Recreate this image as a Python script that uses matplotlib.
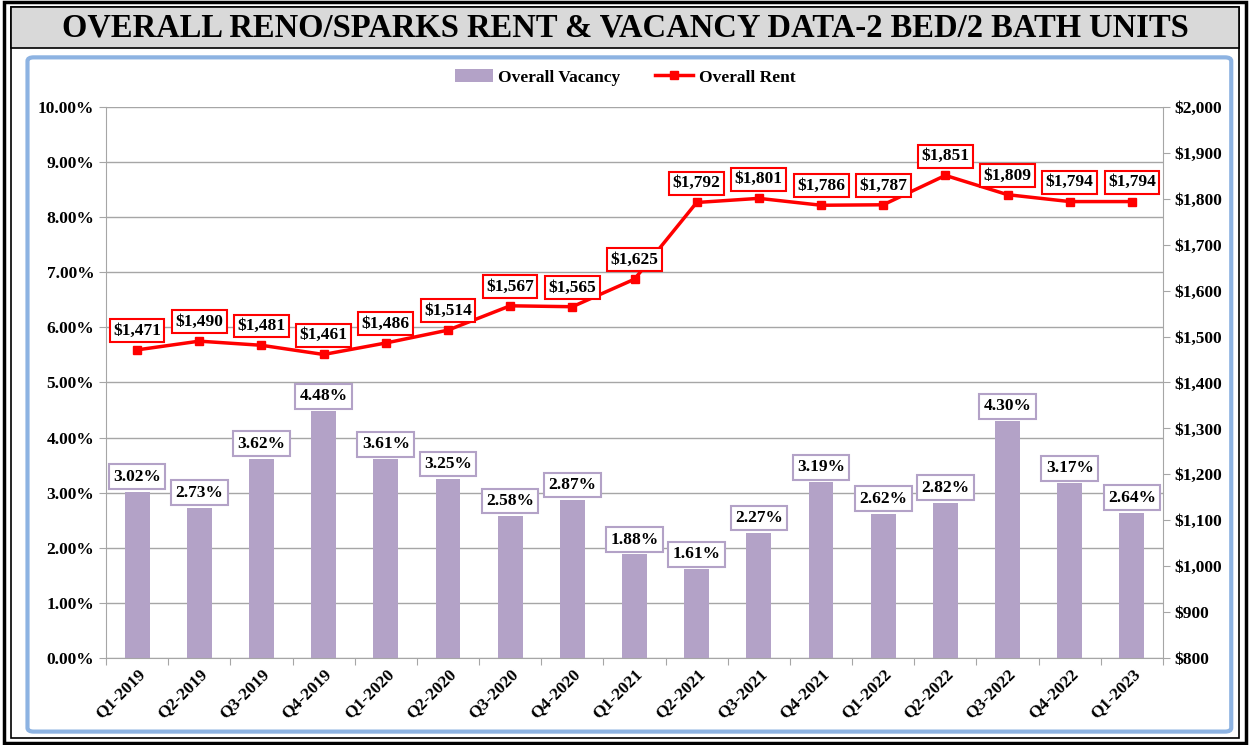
import numpy as np
import matplotlib.pyplot as plt
from matplotlib.patches import Rectangle, FancyBboxPatch
from matplotlib.ticker import FuncFormatter

quarters = ["Q1-2019", "Q2-2019", "Q3-2019", "Q4-2019", "Q1-2020", "Q2-2020",
            "Q3-2020", "Q4-2020", "Q1-2021", "Q2-2021", "Q3-2021", "Q4-2021",
            "Q1-2022", "Q2-2022", "Q3-2022", "Q4-2022", "Q1-2023"]
vacancy = [3.02, 2.73, 3.62, 4.48, 3.61, 3.25, 2.58, 2.87, 1.88, 1.61,
           2.27, 3.19, 2.62, 2.82, 4.30, 3.17, 2.64]
rent = [1471, 1490, 1481, 1461, 1486, 1514, 1567, 1565, 1625, 1792,
        1801, 1786, 1787, 1851, 1809, 1794, 1794]

plt.rcParams['font.family'] = ['Liberation Serif', 'DejaVu Serif']
plt.rcParams['font.weight'] = 'bold'

bar_color = '#b3a2c7'
line_color = '#ff0000'

fig = plt.figure(figsize=(12.5, 7.45), dpi=100)

# рамки
fig.patches.append(Rectangle((0.003, 0.003), 0.994, 0.994, transform=fig.transFigure,
                             fill=False, edgecolor='black', linewidth=2.5, zorder=-2))
fig.patches.append(Rectangle((0.009, 0.009), 0.982, 0.982, transform=fig.transFigure,
                             fill=False, edgecolor='black', linewidth=1.2, zorder=-2))
fig.patches.append(Rectangle((0.009, 0.935), 0.982, 0.056, transform=fig.transFigure,
                             facecolor='#d9d9d9', edgecolor='black', linewidth=1.2, zorder=-2))
fig.patches.append(FancyBboxPatch((0.022, 0.018), 0.963, 0.905, transform=fig.transFigure,
                                  boxstyle='round,pad=0,rounding_size=0.005',
                                  facecolor='white', edgecolor='#8db3e2', linewidth=3, zorder=-1))
fig.text(0.5, 0.962, "OVERALL RENO/SPARKS RENT & VACANCY DATA-2 BED/2 BATH UNITS",
         ha='center', va='center', fontsize=23.5, fontweight='bold')

ax = fig.add_axes([0.0848, 0.1168, 0.8456, 0.7396])
ax.set_facecolor('none')
x = np.arange(len(quarters))
ax.bar(x, vacancy, width=0.4, color=bar_color, zorder=2, label='Overall Vacancy')
ax.set_xlim(-0.5, len(quarters) - 0.5)
ax.set_ylim(0, 10)
ax.set_yticks(np.arange(0, 10.01, 1))
ax.yaxis.set_major_formatter(FuncFormatter(lambda v, p: f"{v:.2f}%"))
ax.grid(axis='y', color='#a6a6a6', linewidth=1, zorder=0)
ax.set_xticks(np.arange(-0.5, len(quarters), 1), minor=False)
ax.set_xticklabels([])
ax.set_xticks(x, minor=True)
ax.set_xticklabels(quarters, minor=True, rotation=45, ha='right', rotation_mode='anchor',
                   fontsize=12.5, fontweight='bold')
ax.tick_params(axis='x', which='minor', length=0, pad=6)
ax.tick_params(axis='x', which='major', length=5, color='#a6a6a6')
ax.tick_params(axis='y', length=5, color='#a6a6a6', labelsize=12.5)
for s in ['top', 'right']:
    ax.spines[s].set_visible(False)
for s in ['left', 'bottom']:
    ax.spines[s].set_color('#a6a6a6')

for xi, v in zip(x, vacancy):
    ax.text(xi, v + 0.27, f"{v:.2f}%", ha='center', va='center', fontsize=12.5,
            fontweight='bold', zorder=5,
            bbox=dict(boxstyle='square,pad=0.25', facecolor='white', edgecolor=bar_color, linewidth=1.5))

ax2 = ax.twinx()
ax2.plot(x, rent, color=line_color, linewidth=2.5, marker='s', markersize=6,
         zorder=3, label='Overall Rent')
ax2.set_ylim(800, 2000)
ax2.set_yticks(np.arange(800, 2001, 100))
ax2.yaxis.set_major_formatter(FuncFormatter(lambda v, p: f"${v:,.0f}"))
ax2.tick_params(axis='y', length=5, color='#a6a6a6', labelsize=12.5)
for s in ['top', 'left', 'bottom']:
    ax2.spines[s].set_visible(False)
ax2.spines['right'].set_color('#a6a6a6')

for xi, r in zip(x, rent):
    ax2.text(xi, r + 42, f"${r:,}", ha='center', va='center', fontsize=12.5,
             fontweight='bold', zorder=5,
             bbox=dict(boxstyle='square,pad=0.2', facecolor='white', edgecolor=line_color, linewidth=1.5))

h1, l1 = ax.get_legend_handles_labels()
h2, l2 = ax2.get_legend_handles_labels()
fig.legend(h1 + h2, l1 + l2, loc='center', bbox_to_anchor=(0.5, 0.896), ncol=2,
           frameon=False, fontsize=12.5, handlelength=2.2, handletextpad=0.3, columnspacing=2.0)

fig.savefig('out.png', dpi=100)
